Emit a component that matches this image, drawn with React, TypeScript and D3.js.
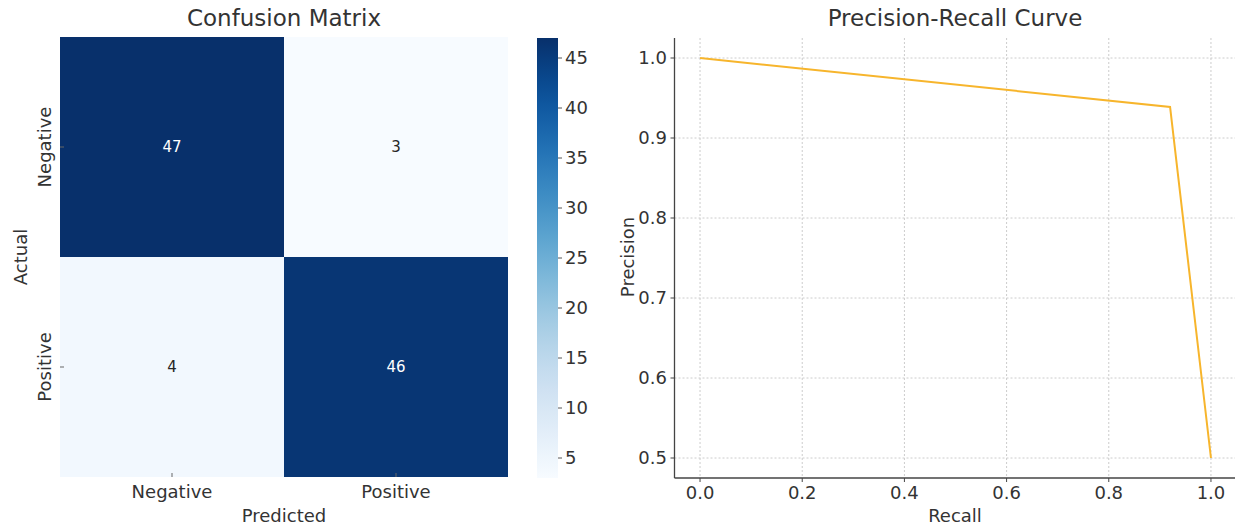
import * as d3 from "d3";
import React from "react";

const classes = ["Negative", "Positive"];
// confusion matrix rows = actual, columns = predicted
const matrix = [
  [47, 3],
  [4, 46],
];
const colorbarTicks = [5, 10, 15, 20, 25, 30, 35, 40, 45];

const recall = [0.0, 0.92, 1.0];
const precision = [1.0, 0.9388, 0.5];
const xTicks = [0, 0.2, 0.4, 0.6, 0.8, 1.0];
const yTicks = [0.5, 0.6, 0.7, 0.8, 0.9, 1.0];

const font = "'DejaVu Sans', sans-serif";
const textColor = "#333";
const titleSize = 23;
const labelSize = 18;

export default function App() {
  const width = 1235;
  const height = 525;
  const top = 37;
  const bottom = 477;

  // heatmap
  const hmLeft = 60;
  const hmRight = 508;
  const xBand = d3.scaleBand().domain(classes).range([hmLeft, hmRight]);
  const yBand = d3.scaleBand().domain(classes).range([top, bottom]);
  const flat = matrix.flat();
  const vmin = d3.min(flat) as number;
  const vmax = d3.max(flat) as number;
  const color = d3.scaleSequential(d3.interpolateBlues).domain([vmin, vmax]);

  // colorbar
  const cbX = 537;
  const cbW = 21;
  const cbScale = d3.scaleLinear().domain([vmin, vmax]).range([bottom + 1, top + 1]);
  const stops = d3.range(0, 1.0001, 0.05);

  // PR curve
  const x = d3.scaleLinear().domain([-0.05, 1.05]).range([674.5, 1236.5]);
  const y = d3.scaleLinear().domain([0.475, 1.025]).range([478, 38]);
  const line = d3
    .line<number>()
    .x((_, i) => x(recall[i]))
    .y((d) => y(d));

  return (
    <svg
      width={width}
      height={height}
      style={{ position: "absolute", left: 0, top: 0, background: "#fff" }}
      fontFamily={font}
    >
      <defs>
        <linearGradient id="cb" x1="0" y1="1" x2="0" y2="0">
          {stops.map((t) => (
            <stop key={t} offset={t} stopColor={d3.interpolateBlues(t)} />
          ))}
        </linearGradient>
      </defs>

      {/* Confusion matrix */}
      <text x={(hmLeft + hmRight) / 2} y={26} textAnchor="middle" fontSize={titleSize} fill={textColor}>
        Confusion Matrix
      </text>
      {matrix.map((row, i) =>
        row.map((v, j) => (
          <g key={i + "-" + j}>
            <rect
              x={xBand(classes[j])}
              y={yBand(classes[i])}
              width={xBand.bandwidth()}
              height={yBand.bandwidth()}
              fill={color(v)}
            />
            <text
              x={(xBand(classes[j]) as number) + xBand.bandwidth() / 2}
              y={(yBand(classes[i]) as number) + yBand.bandwidth() / 2}
              dy="0.35em"
              textAnchor="middle"
              fontSize={15}
              fill={v > (vmin + vmax) / 2 ? "#fff" : "#262626"}
            >
              {v}
            </text>
          </g>
        ))
      )}
      {classes.map((c) => {
        const cx = (xBand(c) as number) + xBand.bandwidth() / 2;
        const cy = (yBand(c) as number) + yBand.bandwidth() / 2;
        return (
          <g key={c}>
            <line x1={cx} x2={cx} y1={bottom - 4} y2={bottom} stroke="#666" />
            <text x={cx} y={498} textAnchor="middle" fontSize={labelSize} fill={textColor}>
              {c}
            </text>
            <line x1={hmLeft} x2={hmLeft + 4} y1={cy} y2={cy} stroke="#666" />
            <text
              transform={`translate(${hmLeft - 9},${cy}) rotate(-90)`}
              textAnchor="middle"
              fontSize={labelSize}
              fill={textColor}
            >
              {c}
            </text>
          </g>
        );
      })}
      <text x={(hmLeft + hmRight) / 2} y={522} textAnchor="middle" fontSize={labelSize} fill={textColor}>
        Predicted
      </text>
      <text
        transform={`translate(27,${(top + bottom) / 2}) rotate(-90)`}
        textAnchor="middle"
        fontSize={labelSize}
        fill={textColor}
      >
        Actual
      </text>

      {/* colorbar */}
      <rect x={cbX} y={top + 1} width={cbW} height={bottom - top} fill="url(#cb)" />
      {colorbarTicks.map((t) => (
        <g key={t}>
          <line x1={cbX + cbW} x2={cbX + cbW + 4} y1={cbScale(t)} y2={cbScale(t)} stroke="#555" />
          <text x={cbX + cbW + 7} y={cbScale(t)} dy="0.35em" fontSize={labelSize} fill={textColor}>
            {t}
          </text>
        </g>
      ))}

      {/* Precision-Recall */}
      <text x={955} y={26} textAnchor="middle" fontSize={titleSize} fill={textColor}>
        Precision-Recall Curve
      </text>
      {xTicks.map((t) => (
        <g key={"x" + t}>
          <line x1={x(t)} x2={x(t)} y1={38} y2={478} stroke="#ccc" strokeDasharray="2,2" />
          <line x1={x(t)} x2={x(t)} y1={478} y2={482} stroke="#444" />
          <text x={x(t)} y={499} textAnchor="middle" fontSize={labelSize} fill={textColor}>
            {t.toFixed(1)}
          </text>
        </g>
      ))}
      {yTicks.map((t) => (
        <g key={"y" + t}>
          <line x1={674.5} x2={1236.5} y1={y(t)} y2={y(t)} stroke="#ccc" strokeDasharray="2,2" />
          <line x1={670.5} x2={674.5} y1={y(t)} y2={y(t)} stroke="#444" />
          <text x={667} y={y(t)} dy="0.35em" textAnchor="end" fontSize={labelSize} fill={textColor}>
            {t.toFixed(1)}
          </text>
        </g>
      ))}
      <line x1={674.5} x2={674.5} y1={38} y2={478} stroke="#444" strokeWidth={1.3} />
      <line x1={674.5} x2={1236.5} y1={478} y2={478} stroke="#444" strokeWidth={1.3} />
      <path d={line(precision) || ""} fill="none" stroke="#F7B52C" strokeWidth={2} />
      <text x={955} y={522} textAnchor="middle" fontSize={labelSize} fill={textColor}>
        Recall
      </text>
      <text
        transform={`translate(634,${(top + bottom) / 2}) rotate(-90)`}
        textAnchor="middle"
        fontSize={labelSize}
        fill={textColor}
      >
        Precision
      </text>
    </svg>
  );
}
